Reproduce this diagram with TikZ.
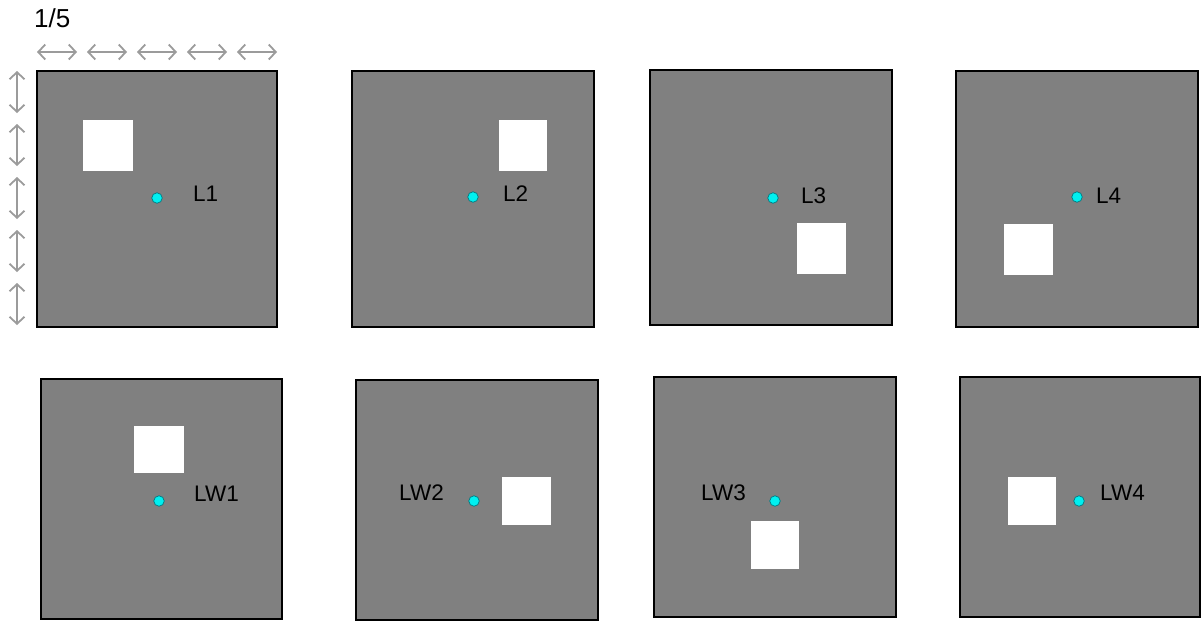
\documentclass[tikz,border=0pt]{standalone}
\usepackage{fontspec}
\setmainfont{Liberation Sans}
\usetikzlibrary{arrows.meta}
\definecolor{spotfill}{RGB}{0,240,240}
\definecolor{spotedge}{RGB}{0,120,128}
\definecolor{boxgray}{RGB}{128,128,128}
\definecolor{spangray}{RGB}{155,155,155}

\begin{document}
\begin{tikzpicture}[x=1pt,y=-1pt,
  panel/.style={fill=boxgray,draw=black,line width=1.6pt},
  hole/.style={fill=white},
  spot/.style={circle,fill=spotfill,draw=spotedge,line width=0.7pt,inner sep=0pt,minimum size=10.5pt},
  tag/.style={anchor=west,inner sep=0pt,font=\fontsize{22.5}{26}\selectfont,text=black},
  span/.style={{Straight Barb[length=7pt,width=15pt]}-{Straight Barb[length=7pt,width=15pt]},draw=spangray,line width=1.8pt},
]
\useasboundingbox (0,0) rectangle (1201,621);

\node[tag,font=\fontsize{26}{30}\selectfont] (frac) at (34,18) {1/5};
\foreach \i in {0,...,4} {
  \draw[span] (37+50*\i,52) -- (77+50*\i,52);
  \draw[span] (17,71+53*\i) -- (17,113+53*\i);
}

% panels: box, white square, dot, label
\foreach \n/\bx/\by/\bX/\bY/\wx/\wy/\wX/\wY/\dx/\dy/\lab/\lx/\ly in {
  1/37/71/277/327/83/120/133/171/157/198/L1/193/194,
  2/352/71/594/327/499/120/547/171/473/197/L2/503/194,
  3/650/70/892/325/797/223/846/274/773/198/L3/801/196,
  4/956/71/1198/327/1004/224/1053/275/1077/197/L4/1096/196,
  5/41/379/282/619/134/426/184/473/159/501/LW1/194/494,
  6/356/380/598/620/502/477/551/525/474/501/LW2/399/493,
  7/654/377/896/617/751/521/799/569/775/501/LW3/701/493,
  8/960/377/1200/617/1008/477/1056/525/1079/501/LW4/1100/493} {
  \draw[panel] (\bx,\by) rectangle (\bX,\bY);
  \fill[hole] (\wx,\wy) rectangle (\wX,\wY);
  \node[spot] (dot\n) at (\dx,\dy) {};
  \node[tag] (lab\n) at (\lx,\ly) {\lab};
}

\end{tikzpicture}
\end{document}
